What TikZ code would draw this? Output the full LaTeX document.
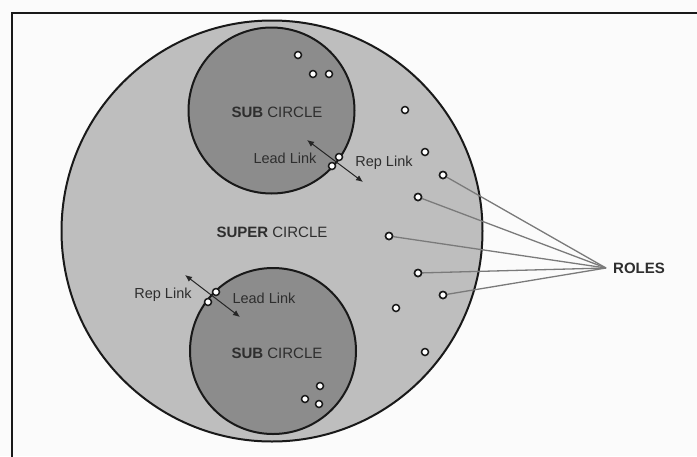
\documentclass[tikz,border=0pt]{standalone}
\usepackage{fontspec}
\setmainfont{Liberation Sans}
\usetikzlibrary{arrows.meta}
\definecolor{bg}{HTML}{FBFBFB}
\definecolor{superfill}{HTML}{BEBEBE}
\definecolor{subfill}{HTML}{8C8C8C}
\definecolor{txt}{HTML}{2E2E2E}
\definecolor{roleline}{HTML}{7A7A7A}
\tikzset{
  bigcircle/.style={draw=black!90, line width=2pt, fill=superfill},
  subcirc/.style={draw=black!90, line width=2pt, fill=subfill},
  role/.style={circle, draw=black!90, fill=white, line width=1.5pt, minimum size=7pt, inner sep=0pt},
  label/.style={font=\fontsize{14.5}{16}\selectfont, text=txt, inner sep=0pt},
  title/.style={font=\fontsize{15}{17}\selectfont, text=txt, inner sep=0pt},
  linkarrow/.style={line width=1pt, draw=black!85, {Latex[length=7pt,width=6pt]}-{Latex[length=7pt,width=6pt]}},
  roleline/.style={line width=1.3pt, draw=roleline},
}
\begin{document}
\begin{tikzpicture}[x=1pt,y=-1pt]
\useasboundingbox[fill=bg] (0,0) rectangle (697,456);
% frame
\draw[line width=2pt, black!90] (11.5,460) -- (11.5,12.5) -- (700,12.5);
% circles
\draw[bigcircle] (272,231) circle (210.5);
\draw[subcirc] (271.5,110.5) circle (83);
\draw[subcirc] (273,351) circle (83);
% texts
\node[title] (supertxt) at (272,232) {\textbf{SUPER} CIRCLE};
\node[title] (subtop) at (277,112) {\textbf{SUB} CIRCLE};
\node[title] (subbot) at (277,353) {\textbf{SUB} CIRCLE};
\node[title, anchor=west] (roles) at (613,268) {\textbf{ROLES}};
\node[label] (leadtop) at (285,158) {Lead Link};
\node[label] (reptop) at (384,163) {Rep Link};
\node[label] (repbot) at (163,295) {Rep Link};
\node[label] (leadbot) at (264,298) {Lead Link};
% link arrows
\coordinate (ta1) at (307,140);
\coordinate (ta2) at (363,182);
\coordinate (ba1) at (185,275);
\coordinate (ba2) at (240,317);
\draw[linkarrow] (ta1) -- (ta2);
\draw[linkarrow] (ba1) -- (ba2);
% roles hub
\coordinate (hub) at (606,268);
% role lines
\node[role] (r1) at (443,175) {};
\node[role] (r2) at (418,197) {};
\node[role] (r3) at (389,236) {};
\node[role] (r4) at (418,273) {};
\node[role] (r5) at (443,295) {};
\foreach \r in {r1,r2,r3,r4,r5} \draw[roleline] (\r) -- (hub);
\foreach \r in {r1,r2,r3,r4,r5} \node[role] at (\r) {};
% other roles in super circle
\node[role] (s1) at (405,110) {};
\node[role] (s2) at (425,152) {};
\node[role] (s3) at (396,308) {};
\node[role] (s4) at (425,352) {};
% roles in top sub circle
\node[role] (t1) at (298,55) {};
\node[role] (t2) at (313,74) {};
\node[role] (t3) at (329,74) {};
% roles in bottom sub circle
\node[role] (b1) at (320,386) {};
\node[role] (b2) at (305,399) {};
\node[role] (b3) at (319,404) {};
% link roles
\node[role] (lt1) at (339,157) {};
\node[role] (lt2) at (332,166) {};
\node[role] (lb1) at (216,292) {};
\node[role] (lb2) at (208,302) {};
\end{tikzpicture}
\end{document}
